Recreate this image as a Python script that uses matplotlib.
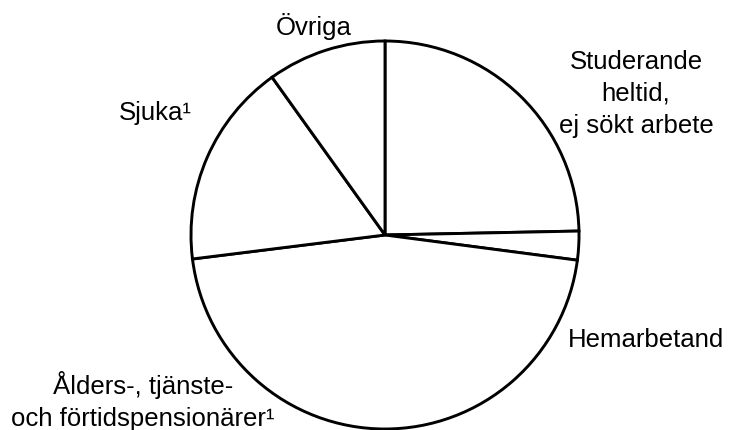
import matplotlib
matplotlib.use("Agg")
import matplotlib.pyplot as plt

plt.rcParams['font.family'] = ['Liberation Sans', 'DejaVu Sans']

categories = ["Studerande\nheltid,\nej sökt arbete", "Hemarbetand",
              "Ålders-, tjänste-\noch förtidspensionärer¹", "Sjuka¹", "Övriga"]
values = [24.7, 2.4, 46.0, 17.1, 9.9]

W, H = 730, 431
fig = plt.figure(figsize=(W / 100, H / 100), dpi=100)
ax = fig.add_axes([0, 0, 1, 1])
ax.pie(values, startangle=90, counterclock=False, center=(385, H - 236), radius=194,
       colors=["white"] * len(values),
       wedgeprops=dict(edgecolor="black", linewidth=2.1))
ax.set_xlim(0, W)
ax.set_ylim(0, H)
ax.set_aspect('auto')
ax.axis('off')

label_pos = [(636, 94), (646, 340), (143, 401), (155, 113), (314, 26)]
for lab, (x, y) in zip(categories, label_pos):
    ax.text(x, H - y, lab, ha="center", va="center", fontsize=18.5, linespacing=1.43)

fig.savefig("out.png", dpi=100)
